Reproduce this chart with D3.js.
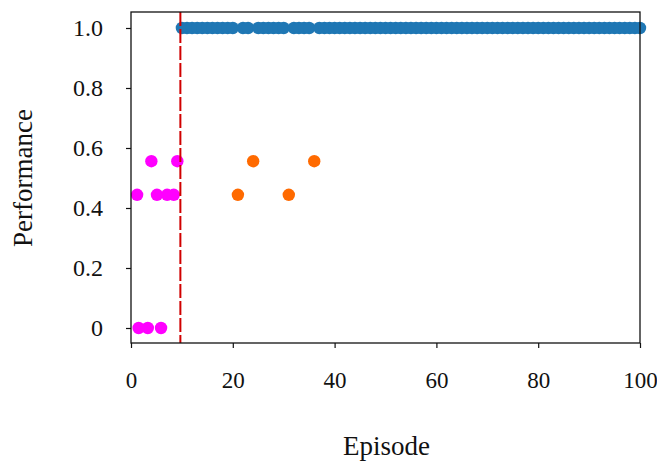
<!DOCTYPE html>
<html>
<head>
<meta charset="utf-8">
<script src="https://cdn.jsdelivr.net/npm/d3@7"></script>
<style>
  html, body { margin: 0; padding: 0; background: #fff; }
  svg { display: block; }
  text { font-family: "Liberation Serif", "DejaVu Serif", serif; fill: #111; }
</style>
</head>
<body>
<script>
// ---- data ----
const preEpisodes  = [1.2, 1.5, 3.3, 4.0, 5.1, 5.9, 7.1, 8.4, 9.1];
const preValues    = [0.444, 0, 0, 0.556, 0.444, 0, 0.444, 0.444, 0.556];
const failEpisodes = [21, 24, 31, 36];
const failValues   = [0.444, 0.556, 0.444, 0.556];
const okEpisodes   = d3.range(10, 101).filter(e => !failEpisodes.includes(e));
const okValues     = okEpisodes.map(() => 1.0);
const thresholdEpisode = 9.7;
const xTicks = [0, 20, 40, 60, 80, 100];
const yTicks = [0, 0.2, 0.4, 0.6, 0.8, 1.0];
const yTickLabels = ["0", "0.2", "0.4", "0.6", "0.8", "1.0"];

// ---- layout ----
const W = 657, H = 462;
const mLeft = 131, mRight = 640, mTop = 12, mBottom = 343;
const fontFam = '"Liberation Serif", "DejaVu Serif", serif';

const svg = d3.select("body").append("svg").attr("width", W).attr("height", H);

const x = d3.scaleLinear().domain([0, 100]).range([mLeft, mRight]);
const y = d3.scaleLinear().domain([0, 1]).range([328, 28]);

// points
function dots(xs, ys, color) {
  svg.append("g").selectAll("circle").data(xs.map((d, i) => [d, ys[i]]))
    .join("circle")
    .attr("cx", d => x(d[0])).attr("cy", d => y(d[1]))
    .attr("r", 6.2).attr("fill", color);
}
dots(okEpisodes, okValues, "#1f77b4");
dots(failEpisodes, failValues, "#ff6a00");
dots(preEpisodes, preValues, "#ff00ff");

// threshold line
svg.append("line")
  .attr("x1", x(thresholdEpisode)).attr("x2", x(thresholdEpisode))
  .attr("y1", mTop).attr("y2", mBottom)
  .attr("stroke", "#d00000").attr("stroke-width", 2)
  .attr("stroke-dasharray", "14,3");

// frame
svg.append("rect")
  .attr("x", mLeft).attr("y", mTop)
  .attr("width", mRight - mLeft).attr("height", mBottom - mTop)
  .attr("fill", "none").attr("stroke", "#111").attr("stroke-width", 1.3);

// axes
const xAxis = d3.axisBottom(x).tickValues(xTicks).tickSize(5).tickPadding(24)
  .tickFormat(d3.format("d"));
const gx = svg.append("g").attr("transform", `translate(0,${mBottom})`).call(xAxis);
gx.select(".domain").remove();
gx.selectAll(".tick line").attr("stroke", "#111").attr("stroke-width", 1.2);
gx.selectAll(".tick text").style("font-size", "23px")
  .style("font-family", fontFam).attr("fill", "#111");

const yAxis = d3.axisLeft(y).tickValues(yTicks).tickSize(5).tickPadding(23)
  .tickFormat((d, i) => yTickLabels[i]);
const gy = svg.append("g").attr("transform", `translate(${mLeft},0)`).call(yAxis);
gy.select(".domain").remove();
gy.selectAll(".tick line").attr("stroke", "#111").attr("stroke-width", 1.2);
gy.selectAll(".tick text").style("font-size", "24px")
  .style("font-family", fontFam).attr("fill", "#111");

// axis labels
svg.append("text").attr("x", (mLeft + mRight) / 2 + 1).attr("y", 455)
  .attr("text-anchor", "middle").style("font-size", "27px").text("Episode");
svg.append("text").attr("transform", "translate(32,178) rotate(-90)")
  .attr("text-anchor", "middle").style("font-size", "27px").text("Performance");
</script>
</body>
</html>
